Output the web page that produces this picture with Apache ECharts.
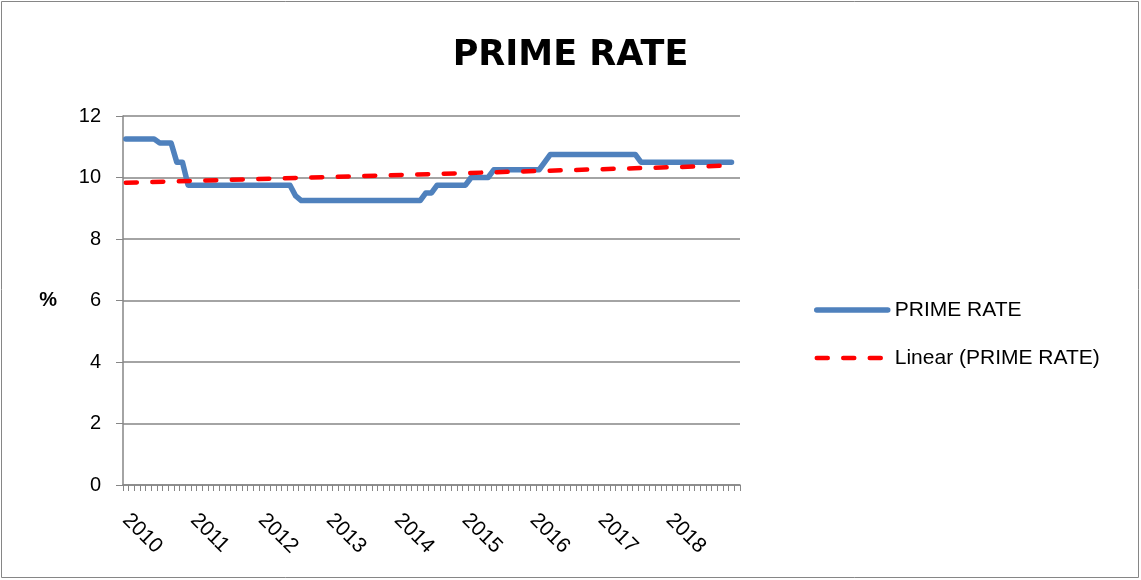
<!DOCTYPE html>
<html>
<head>
<meta charset="utf-8">
<title>PRIME RATE</title>
<script src="https://cdn.jsdelivr.net/npm/echarts@6/dist/echarts.min.js"></script>
<style>
  html, body { margin: 0; padding: 0; background: #ffffff; }
  #chart { width: 1141px; height: 580px; }
</style>
</head>
<body>
<div id="chart"></div>
<script>
// Year labels shown under the axis (one per January)
const yearLabels = ['2010', '2011', '2012', '2013', '2014', '2015', '2016', '2017', '2018'];

// Monthly categories: Jan 2010 .. Jan 2019
const months = [];
for (let y = 2010; y <= 2019; y++) {
  for (let m = 1; m <= 12; m++) {
    if (y === 2019 && m > 1) break;
    months.push(y + '-' + String(m).padStart(2, '0'));
  }
}

// Prime rate (%), one value per month, Jan 2010 .. Dec 2018
const prime2010 = [11.25, 11.25, 11.25, 11.25, 11.25, 11.25, 11.125, 11.125, 11.125, 10.5, 10.5, 9.75];
const prime2011 = [9.75, 9.75, 9.75, 9.75, 9.75, 9.75, 9.75, 9.75, 9.75, 9.75, 9.75, 9.75];
const prime2012 = [9.75, 9.75, 9.75, 9.75, 9.75, 9.75, 9.4, 9.25, 9.25, 9.25, 9.25, 9.25];
const prime2013 = [9.25, 9.25, 9.25, 9.25, 9.25, 9.25, 9.25, 9.25, 9.25, 9.25, 9.25, 9.25];
const prime2014 = [9.25, 9.25, 9.25, 9.25, 9.25, 9.5, 9.5, 9.75, 9.75, 9.75, 9.75, 9.75];
const prime2015 = [9.75, 10, 10, 10, 10, 10.25, 10.25, 10.25, 10.25, 10.25, 10.25, 10.25];
const prime2016 = [10.25, 10.25, 10.5, 10.75, 10.75, 10.75, 10.75, 10.75, 10.75, 10.75, 10.75, 10.75];
const prime2017 = [10.75, 10.75, 10.75, 10.75, 10.75, 10.75, 10.75, 10.5, 10.5, 10.5, 10.5, 10.5];
const prime2018 = [10.5, 10.5, 10.5, 10.5, 10.5, 10.5, 10.5, 10.5, 10.5, 10.5, 10.5, 10.5];

// Linear trendline end values (first and last month of the series)
const trendStart = 9.83;
const trendEnd = 10.39;

const primeRate = [].concat(prime2010, prime2011, prime2012, prime2013, prime2014,
                            prime2015, prime2016, prime2017, prime2018);

// Trendline drawn between its two end points
const trend = months.map(() => null);
trend[0] = trendStart;
trend[primeRate.length - 1] = trendEnd;

const gridGray = '#868686';
const blue = '#4F81BD';
const red = '#FF0000';
const baseFont = '"Liberation Sans", Arial, sans-serif';
const trendDash = [11, 15.5];

const chart = echarts.init(document.getElementById('chart'), null, { renderer: 'canvas' });

chart.setOption({
  animation: false,
  backgroundColor: '#ffffff',
  title: {
    text: 'PRIME RATE',
    left: 'center',
    top: 33,
    textStyle: {
      fontFamily: '"DejaVu Sans", sans-serif',
      fontWeight: 'bold',
      fontSize: 35,
      lineHeight: 35,
      color: '#000000'
    }
  },
  legend: {
    orient: 'vertical',
    left: 809,
    top: 293,
    itemWidth: 71,
    itemHeight: 14,
    itemGap: 24,
    data: [
      {
        name: 'PRIME RATE',
        itemStyle: { opacity: 0 },
        lineStyle: { color: blue, width: 5.5, cap: 'round' }
      },
      {
        name: 'Linear (PRIME RATE)',
        itemStyle: { opacity: 0 },
        lineStyle: { color: red, width: 4.5, type: trendDash, cap: 'round' }
      }
    ],
    textStyle: {
      fontFamily: baseFont,
      fontSize: 21,
      lineHeight: 24,
      color: '#000000',
      padding: [0, 0, 0, 2]
    }
  },
  graphic: [{
    type: 'rect',
    shape: { x: 1.5, y: 1.5, width: 1137, height: 576 },
    style: { fill: 'none', stroke: gridGray, lineWidth: 1 },
    silent: true,
    z: -1
  }],
  grid: { left: 123, right: 401, top: 116, bottom: 95 },
  xAxis: {
    type: 'category',
    data: months,
    boundaryGap: true,
    axisLine: { show: true, lineStyle: { color: gridGray, width: 1.5 } },
    axisTick: { show: true, interval: 0, length: 6, lineStyle: { color: gridGray, width: 1 } },
    axisLabel: {
      interval: (index) => index % 12 === 0 && yearLabels.includes(months[index].slice(0, 4)),
      formatter: (value) => value.slice(0, 4),
      rotate: -45,
      margin: 32,
      fontFamily: baseFont,
      fontSize: 21,
      color: '#000000'
    },
    splitLine: { show: false }
  },
  yAxis: {
    type: 'value',
    min: 0,
    max: 12,
    interval: 2,
    name: '%',
    nameLocation: 'middle',
    nameRotate: 0,
    nameGap: 66,
    nameTextStyle: {
      fontFamily: baseFont,
      fontWeight: 'bold',
      fontSize: 20,
      color: '#000000',
      padding: [8, 0, 0, 0]
    },
    axisLine: { show: true, lineStyle: { color: gridGray, width: 1.5 } },
    axisTick: { show: true, length: 7, lineStyle: { color: gridGray, width: 1 } },
    axisLabel: {
      margin: 22,
      fontFamily: baseFont,
      fontSize: 20,
      color: '#000000'
    },
    splitLine: { show: true, lineStyle: { color: gridGray, width: 1.5 } }
  },
  series: [
    {
      name: 'PRIME RATE',
      type: 'line',
      data: primeRate,
      symbol: 'none',
      lineStyle: { color: blue, width: 5.5, cap: 'round', join: 'round' },
      itemStyle: { color: blue },
      z: 2
    },
    {
      name: 'Linear (PRIME RATE)',
      type: 'line',
      data: trend,
      connectNulls: true,
      symbol: 'none',
      lineStyle: { color: red, width: 4.5, type: trendDash, cap: 'round' },
      itemStyle: { color: red },
      z: 3
    }
  ]
});
</script>
</body>
</html>
